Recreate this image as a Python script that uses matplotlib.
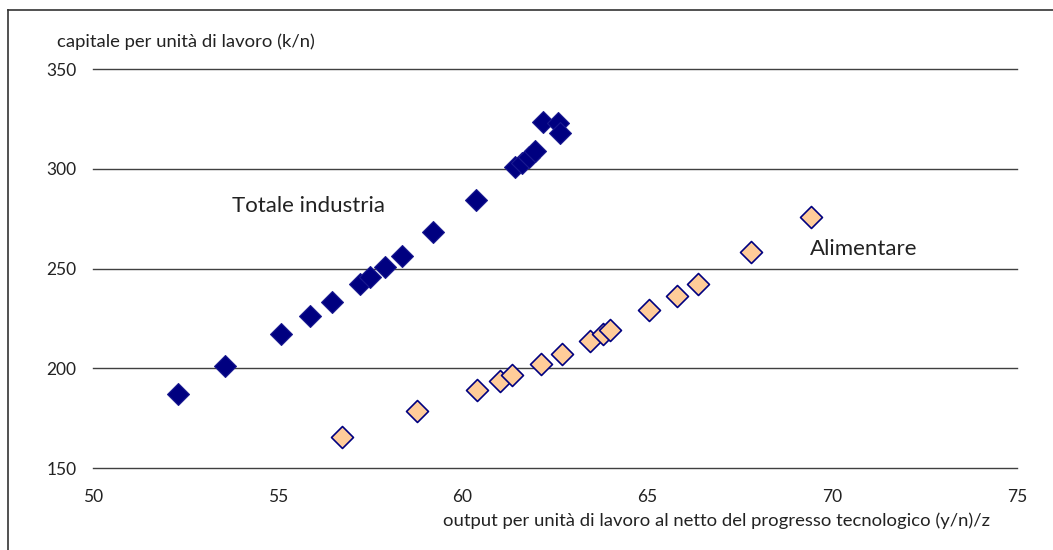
import matplotlib.pyplot as plt
from matplotlib.lines import Line2D

# Totale industria
ind_x = [52.3, 53.57, 55.09, 55.87, 56.48, 57.22, 57.49, 57.9, 58.35, 59.21, 60.36,
         61.42, 61.6, 61.8, 61.96, 62.18, 62.59, 62.64]
ind_y = [187.3, 201.2, 217.3, 226.2, 233.2, 242.3, 245.7, 250.7, 256.5, 268.2, 284.3,
         300.7, 303.0, 306.0, 309.0, 323.5, 322.8, 318.0]

# Alimentare
ali_x = [56.75, 58.78, 60.4, 61.01, 61.33, 62.11, 62.68, 63.45, 63.8, 63.99, 65.05,
         65.79, 66.38, 67.79, 69.42]
ali_y = [165.7, 178.7, 189.3, 193.5, 196.5, 202.3, 207.3, 213.7, 217.3, 219.0, 229.0,
         236.2, 242.3, 258.2, 276.0]

xticks = [50, 55, 60, 65, 70, 75]
yticks = [150, 200, 250, 300, 350]

plt.rcParams['font.family'] = ['Lato', 'DejaVu Sans']

fig = plt.figure(figsize=(10.53, 5.5), dpi=100)
ax = fig.add_axes([0.0883, 0.149, 0.8775, 0.7255])

ax.scatter(ind_x, ind_y, marker='D', s=125, color='#000080', edgecolors='#1a1a90',
           linewidths=0.8, zorder=3)
ax.scatter(ali_x, ali_y, marker='D', s=125, color='#FFCC99', edgecolors='#000080',
           linewidths=1.2, zorder=3)

ax.set_xlim(50, 75)
ax.set_ylim(150, 350)
ax.set_xticks(xticks)
ax.set_yticks(yticks)
for y in yticks:
    ax.axhline(y, color='#404040', linewidth=1, zorder=1, clip_on=False)
for s in ax.spines.values():
    s.set_visible(False)
ax.tick_params(axis='both', length=0, labelsize=12.5, colors='#222222')
ax.tick_params(axis='y', pad=12)
ax.tick_params(axis='x', pad=15)

ax.text(53.76, 281.5, 'Totale industria', fontsize=16, color='#222222', va='center')
ax.text(69.4, 260, 'Alimentare', fontsize=16, color='#222222', va='center')

fig.text(57 / 1053, 1 - 42 / 550, 'capitale per unità di lavoro (k/n)', fontsize=13.3,
         color='#222222', va='center')
fig.text(990 / 1053, 1 - 521 / 550,
         'output per unità di lavoro al netto del progresso tecnologico (y/n)/z',
         fontsize=13.3, color='#222222', va='center', ha='right')

# cornice esterna
fig.add_artist(Line2D([8 / 1053, 8 / 1053], [0, 1 - 10 / 550], transform=fig.transFigure,
                      color='#333333', linewidth=1.2))
fig.add_artist(Line2D([8 / 1053, 1], [1 - 10 / 550, 1 - 10 / 550], transform=fig.transFigure,
                      color='#333333', linewidth=1.2))

fig.savefig('out.png', dpi=100)
